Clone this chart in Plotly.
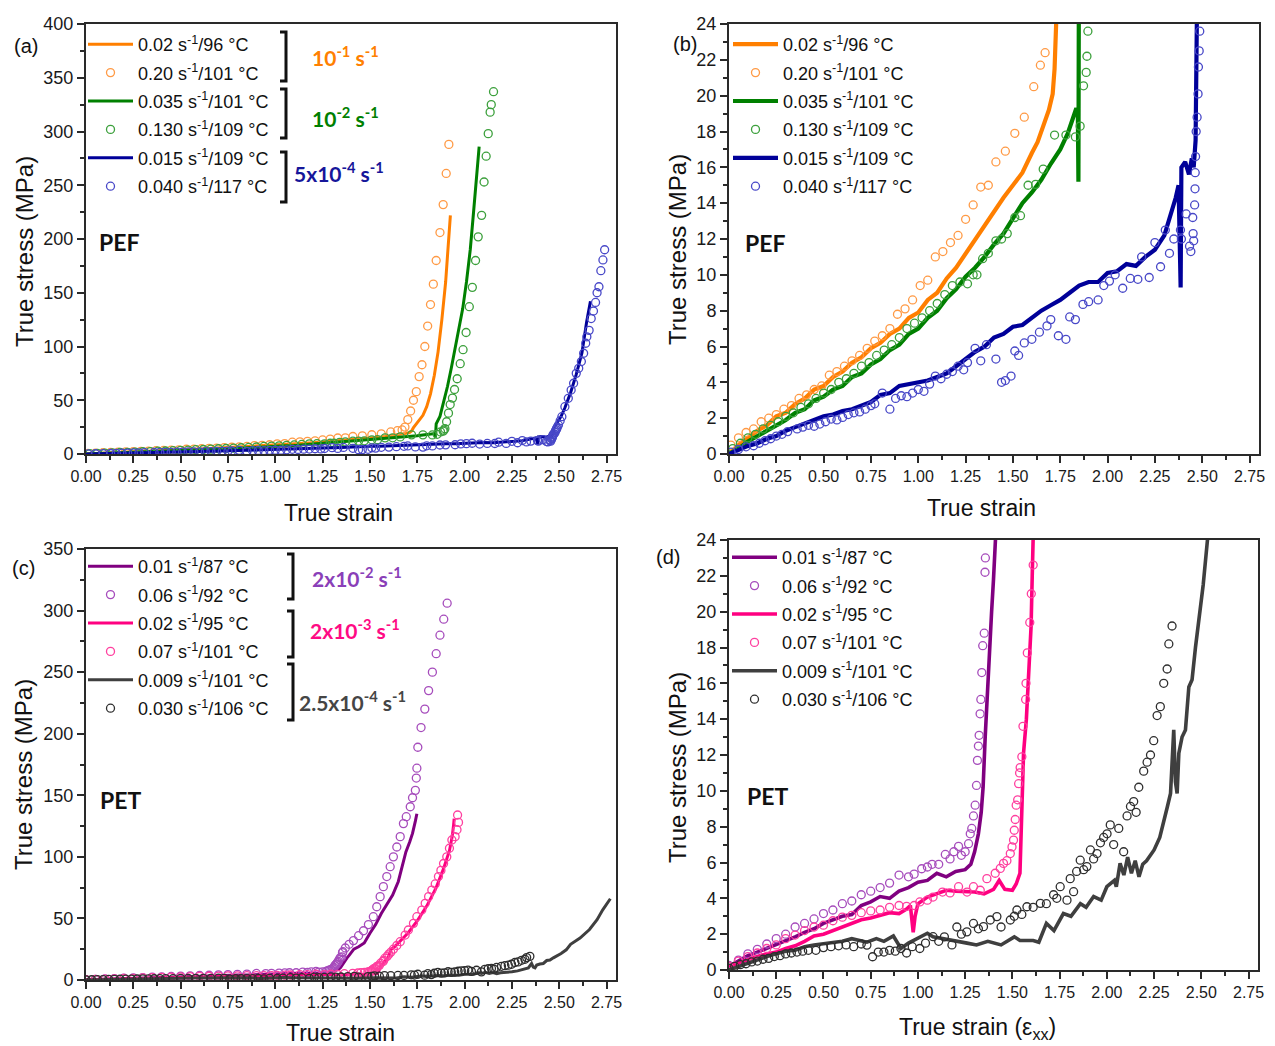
import plotly.graph_objects as go

FIG_W, FIG_H = 1275, 1046


def fx(p):
    return p / FIG_W


def fy(p):
    return 1 - p / FIG_H


# ---------------- PEF data (true strain, true stress in MPa) ----------------
pef_l1_x = [0.00, 0.05, 0.10, 0.15, 0.20, 0.25, 0.30, 0.35, 0.40, 0.45, 0.50, 0.55, 0.60, 0.65, 0.70, 0.75,
            0.80, 0.85, 0.90, 0.95, 1.00, 1.05, 1.10, 1.15, 1.20, 1.25, 1.30, 1.35, 1.40, 1.45, 1.50, 1.55,
            1.60, 1.63, 1.66, 1.69, 1.71, 1.72, 1.73, 1.74, 1.76, 1.78, 1.80, 1.82, 1.84, 1.86, 1.88, 1.90,
            1.91, 1.92, 1.925]
pef_l1_y = [0.0, 0.5, 0.9, 1.3, 1.6, 2.1, 2.3, 2.8, 3.1, 3.6, 3.8, 4.3, 4.6, 5.1, 5.4, 5.9,
            6.2, 6.7, 7.0, 7.6, 7.9, 8.6, 9.0, 9.8, 10.4, 11.2, 11.9, 12.8, 13.5, 14.3, 15.0, 15.7,
            16.8, 17.4, 18.3, 19.2, 20.1, 21.5, 24.5, 27, 31, 36, 44, 56, 73, 95, 125, 160,
            185, 210, 222]

pef_m1_x = [0.01, 0.05, 0.09, 0.13, 0.17, 0.21, 0.25, 0.29, 0.33, 0.37, 0.41, 0.45, 0.49, 0.53, 0.57, 0.61,
            0.65, 0.69, 0.73, 0.77, 0.81, 0.85, 0.89, 0.93, 0.97, 1.01, 1.05, 1.09, 1.13, 1.17, 1.21, 1.25,
            1.29, 1.33, 1.37, 1.41, 1.46, 1.51, 1.56, 1.61, 1.645, 1.67, 1.685, 1.70, 1.715, 1.73, 1.745,
            1.76, 1.775, 1.79, 1.805, 1.82, 1.835, 1.85, 1.87, 1.887, 1.903, 1.917]
pef_m1_y = [0.5, 0.9, 1.2, 1.4, 1.8, 2.0, 2.2, 2.5, 2.7, 3.1, 3.3, 3.6, 3.8, 4.4, 4.6, 4.9,
            5.2, 5.5, 5.9, 6.3, 6.6, 7.0, 7.8, 8.1, 8.6, 9.4, 9.7, 11.0, 11.3, 11.8, 12.2, 13.1,
            13.9, 14.9, 15.0, 16.3, 16.9, 17.9, 18.8, 20.5, 21.7, 22.4, 25, 32, 40, 50, 58,
            72, 83, 100, 119, 139, 158, 180, 206, 232, 261, 288]

pef_l2_x = [0.00, 0.05, 0.10, 0.15, 0.20, 0.25, 0.30, 0.35, 0.40, 0.45, 0.50, 0.55, 0.60, 0.65, 0.70, 0.75,
            0.80, 0.85, 0.90, 0.95, 1.00, 1.05, 1.10, 1.15, 1.20, 1.25, 1.30, 1.35, 1.40, 1.45, 1.50, 1.55,
            1.60, 1.65, 1.70, 1.75, 1.79, 1.82, 1.835, 1.843, 1.846, 1.848, 1.85, 1.87, 1.89, 1.91, 1.93,
            1.95, 1.97, 1.99, 2.01, 2.03, 2.045, 2.055, 2.065, 2.072, 2.077]
pef_l2_y = [0.0, 0.3, 0.7, 1.0, 1.3, 1.6, 1.9, 2.3, 2.5, 3.0, 3.2, 3.6, 3.8, 4.3, 4.5, 5.0,
            5.3, 5.8, 6.1, 6.7, 7.0, 7.6, 8.0, 8.7, 9.2, 9.9, 10.4, 11.0, 11.7, 12.3, 13.2, 14.0,
            14.6, 15.3, 16.2, 17.0, 17.9, 18.8, 19.3, 19.0, 15.2, 24.5, 28, 35, 48, 63, 80,
            98, 115, 135, 160, 190, 220, 240, 265, 275, 286]

pef_m2_x = [0.02, 0.06, 0.10, 0.14, 0.18, 0.22, 0.26, 0.30, 0.34, 0.38, 0.42, 0.46, 0.50, 0.54, 0.58, 0.62,
            0.66, 0.70, 0.74, 0.78, 0.82, 0.86, 0.90, 0.94, 0.98, 1.02, 1.06, 1.10, 1.14, 1.18, 1.22, 1.26,
            1.29, 1.31, 1.34, 1.37, 1.41, 1.44, 1.47, 1.51, 1.54, 1.58, 1.62, 1.66, 1.72, 1.78, 1.83,
            1.855, 1.873, 1.887, 1.891, 1.896,
            1.905, 1.915, 1.924, 1.936, 1.947, 1.961, 1.977, 1.992, 2.008, 2.025, 2.041, 2.058, 2.072,
            2.09, 2.103, 2.114, 2.125, 2.135, 2.141, 2.153]
pef_m2_y = [0.3, 0.6, 0.9, 1.1, 1.4, 1.6, 1.8, 2.1, 2.3, 2.6, 2.8, 3.1, 3.4, 3.6, 4.0, 4.2,
            4.5, 4.9, 5.1, 5.5, 5.8, 6.1, 6.5, 7.0, 7.3, 7.6, 8.0, 8.4, 8.9, 9.4, 9.6, 9.5,
            10.0, 10.0, 10.9, 11.2, 11.9, 12.0, 12.3, 13.2, 13.3, 15.0, 15.05, 15.9, 17.8, 17.8, 17.7,
            18.3, 20.55, 21.3, 22.2, 23.6,
            30, 38, 46, 52, 60, 70, 84, 97, 113, 137, 155, 180, 202,
            222, 253, 277, 298, 318, 325, 337]

pef_l3_x = [0.00, 0.05, 0.10, 0.15, 0.20, 0.25, 0.30, 0.35, 0.40, 0.45, 0.50, 0.55, 0.60, 0.65, 0.70, 0.75,
            0.80, 0.85, 0.90, 0.95, 1.00, 1.05, 1.10, 1.15, 1.20, 1.25, 1.30, 1.35, 1.40, 1.45, 1.50, 1.55,
            1.60, 1.65, 1.70, 1.75, 1.80, 1.85, 1.90, 1.95, 2.00, 2.05, 2.10, 2.15, 2.20, 2.25, 2.30,
            2.33, 2.36, 2.375, 2.383, 2.386, 2.39, 2.41, 2.43, 2.445, 2.455, 2.465, 2.472, 2.49, 2.51,
            2.53, 2.56, 2.59, 2.62, 2.645, 2.665]
pef_l3_y = [0.0, 0.25, 0.45, 0.6, 0.85, 1.0, 1.3, 1.5, 1.7, 1.85, 2.1, 2.2, 2.4, 2.5, 2.7, 2.9,
            3.3, 3.4, 3.8, 3.9, 4.0, 4.1, 4.3, 4.5, 4.9, 5.3, 5.7, 6.0, 6.5, 6.7, 7.1, 7.2,
            7.6, 8.0, 8.3, 8.6, 9.0, 9.4, 9.6, 9.6, 10.1, 10.2, 10.6, 10.5, 11.0, 11.4, 12.2,
            13.2, 14.3, 15.0, 12.0, 9.3, 16.0, 16.3, 15.6, 16.5, 16.0, 17.5, 24.5, 29, 35,
            43, 57, 74, 94, 123, 142]

pef_m3_x = [0.01, 0.05, 0.09, 0.13, 0.16, 0.19, 0.22, 0.25, 0.28, 0.31,
            0.36, 0.39, 0.42, 0.45, 0.48, 0.51, 0.54, 0.57, 0.60, 0.63,
            0.66, 0.69, 0.72, 0.75, 0.77, 0.81, 0.85, 0.88, 0.91, 0.94,
            0.97, 1.00, 1.03, 1.06, 1.09, 1.12, 1.15, 1.18, 1.21, 1.24,
            1.26, 1.30, 1.33, 1.36, 1.41, 1.44, 1.46, 1.49, 1.51, 1.53,
            1.56, 1.60, 1.64, 1.68, 1.70, 1.74, 1.78, 1.80, 1.83, 1.87,
            1.90, 1.95, 1.98, 2.01, 2.04, 2.08, 2.12, 2.16, 2.18, 2.22,
            2.25, 2.28, 2.305, 2.327, 2.35, 2.385, 2.39, 2.415, 2.433, 2.44,
            2.45, 2.452, 2.455, 2.46, 2.462, 2.463, 2.465, 2.468, 2.473, 2.478,
            2.48, 2.484, 2.487, 2.49, 2.496, 2.505, 2.514, 2.53, 2.548, 2.563,
            2.576, 2.59, 2.603, 2.617, 2.629, 2.64, 2.646, 2.658, 2.669, 2.681,
            2.692, 2.70, 2.71, 2.72, 2.731, 2.74]
pef_m3_y = [0.1, 0.25, 0.4, 0.46, 0.6, 0.74, 0.85, 1.0, 1.1, 1.25,
            1.4, 1.5, 1.6, 1.55, 1.67, 1.8, 1.95, 1.9, 2.04, 2.2,
            2.3, 2.35, 2.5, 2.7, 2.8, 3.4, 2.5, 3.1, 3.25, 3.2,
            3.4, 3.6, 3.5, 3.9, 4.35, 4.2, 4.45, 4.6, 4.9, 4.7,
            5.1, 5.9, 5.2, 6.1, 5.3, 4.0, 4.1, 4.35, 5.75, 5.5,
            6.2, 6.4, 6.8, 7.15, 7.5, 6.6, 6.4, 7.65, 7.5, 8.35,
            8.5, 8.6, 9.4, 9.65, 10.0, 9.25, 9.8, 9.75, 11.0, 9.85,
            11.8, 10.45, 12.5, 11.2, 12.0, 12.5, 12.0, 13.4, 11.6, 11.3,
            13.2, 12.3, 11.9, 13.9, 14.8, 15.7, 16.6, 18.0, 18.8, 20.1,
            21.6, 22.5, 23.6, 25, 27, 31, 34.7, 44, 51.8, 59.5,
            65.8, 75, 79.7, 86, 93.7, 103, 109, 115, 126, 133,
            141, 150, 155.6, 170.5, 180.5, 190]

# ---------------- PET data ----------------
pet_l1_x = [0.00, 0.05, 0.10, 0.15, 0.20, 0.25, 0.30, 0.35, 0.40, 0.45, 0.50, 0.55, 0.60, 0.65, 0.70, 0.75,
            0.80, 0.85, 0.90, 0.95, 1.00, 1.05, 1.10, 1.15, 1.20, 1.25, 1.28, 1.30, 1.32, 1.335, 1.345,
            1.356, 1.368, 1.379, 1.39, 1.40, 1.415, 1.44, 1.47, 1.50, 1.53, 1.56, 1.59, 1.62, 1.65, 1.67,
            1.69, 1.71, 1.725, 1.74, 1.748]
pet_l1_y = [0.2, 0.5, 0.8, 1.0, 1.2, 1.4, 1.6, 1.85, 2.1, 2.3, 2.6, 2.8, 3.0, 3.1, 3.6, 3.8,
            4.1, 4.0, 4.4, 4.6, 4.9, 5.0, 5.4, 5.2, 5.5, 5.6, 5.9, 6.6, 7.6, 8.8, 10.2,
            13.0, 15.8, 18.0, 20.0, 21.8, 25, 27, 30, 38, 45, 54, 61, 69, 80, 92,
            104, 112, 119, 129, 135]

pet_m1_x = [0.00, 0.05, 0.10, 0.15, 0.20, 0.25, 0.30, 0.35, 0.40, 0.45,
            0.50, 0.55, 0.60, 0.65, 0.70, 0.75, 0.80, 0.85, 0.90, 0.95,
            0.98, 1.02, 1.05, 1.075, 1.11, 1.145, 1.17, 1.19, 1.215, 1.23,
            1.25, 1.268, 1.277, 1.285, 1.294, 1.303, 1.31, 1.315, 1.32, 1.324,
            1.329, 1.333, 1.338, 1.343, 1.351, 1.355, 1.357, 1.37, 1.39, 1.413,
            1.44, 1.466, 1.492, 1.518, 1.536, 1.554, 1.571, 1.589, 1.607, 1.624,
            1.642, 1.66, 1.677, 1.692, 1.713, 1.725, 1.74, 1.745, 1.748, 1.753,
            1.77, 1.79, 1.81, 1.83, 1.85, 1.87, 1.89, 1.908]
pet_m1_y = [0.25, 0.55, 0.9, 1.15, 1.45, 1.75, 2.0, 2.4, 2.6, 2.85,
            3.15, 3.35, 3.7, 3.85, 4.2, 4.4, 4.6, 4.85, 5.3, 5.2,
            5.35, 5.65, 5.75, 5.9, 5.9, 6.45, 6.2, 6.6, 6.9, 6.4,
            6.6, 7.05, 7.6, 7.9, 8.6, 9.2, 10.3, 11.7, 12.5, 13.1,
            14.3, 15.1, 16.6, 18.1, 18.8, 22.2, 23.0, 26, 29, 32,
            36, 40, 45, 51.4, 59.5, 67.7, 75.8, 84, 92, 100,
            108, 116.4, 127, 132.6, 140.7, 148, 154, 164, 172, 189,
            205, 220, 235, 250, 265, 280, 293, 306]

pet_l2_x = [0.00, 0.05, 0.10, 0.15, 0.20, 0.25, 0.30, 0.35, 0.40, 0.45,
            0.50, 0.55, 0.60, 0.65, 0.70, 0.75, 0.80, 0.85, 0.90,
            0.94, 0.96, 0.975, 0.985, 1.00,
            1.05, 1.10, 1.15, 1.20, 1.25, 1.30, 1.35, 1.40,
            1.43, 1.46, 1.50, 1.52, 1.54, 1.55, 1.559, 1.574, 1.586, 1.599,
            1.605, 1.612, 1.63, 1.65, 1.70, 1.75, 1.80, 1.85, 1.89, 1.92,
            1.935, 1.942, 1.945]
pet_l2_y = [0.2, 0.4, 0.6, 0.75, 0.9, 1.0, 1.2, 1.35, 1.6, 1.9,
            2.0, 2.2, 2.4, 2.6, 2.8, 2.9, 3.05, 3.2, 3.15,
            3.4, 3.6, 2.1, 3.0, 3.7,
            4.07, 4.25, 4.45, 4.4, 4.4, 4.35, 4.25, 4.5,
            5.0, 4.5, 4.45, 4.8, 5.4, 8.4, 12.1, 14.0, 16.8, 19.2,
            22, 25, 27, 30, 38, 48, 60, 75, 91, 105,
            117, 126, 131]

pet_m2_x = [0.00, 0.05, 0.10, 0.15, 0.20, 0.25, 0.30, 0.35, 0.40, 0.45,
            0.50, 0.55, 0.60, 0.65, 0.70, 0.75, 0.80, 0.85, 0.90,
            0.94, 0.98, 1.01, 1.05, 1.08, 1.13, 1.17, 1.215, 1.26, 1.294,
            1.33, 1.365, 1.409, 1.436, 1.453, 1.471, 1.489, 1.498, 1.506, 1.51,
            1.515, 1.52, 1.528, 1.533, 1.538, 1.541, 1.55, 1.556, 1.57, 1.572,
            1.579, 1.592, 1.60, 1.61, 1.624, 1.642, 1.66, 1.686, 1.703, 1.73,
            1.748, 1.774, 1.792, 1.81, 1.827, 1.845, 1.862, 1.875, 1.889, 1.906,
            1.92, 1.933, 1.95, 1.96, 1.963, 1.968]
pet_m2_y = [0.2, 0.5, 0.75, 0.95, 1.2, 1.4, 1.75, 1.95, 2.2, 2.4,
            2.5, 2.75, 2.95, 3.05, 3.2, 3.3, 3.35, 3.5, 3.6,
            3.55, 3.6, 3.8, 3.9, 4.07, 4.35, 4.3, 4.65, 4.35, 4.65,
            4.45, 5.1, 5.4, 5.67, 5.95, 6.1, 6.5, 6.87, 7.25, 7.8,
            8.4, 9.2, 9.5, 10.4, 11.0, 11.3, 11.9, 13.6, 15.1, 16.0,
            17.7, 19.4, 21, 22.6, 25, 28, 31.1, 36.5, 40.6, 46,
            51.4, 56.8, 62.3, 67.7, 73, 78, 84, 89, 94.6, 100,
            107, 113.7, 116.4, 122, 134, 128]

pet_l3_x = [0.00, 0.05, 0.10, 0.15, 0.20, 0.25, 0.30, 0.35, 0.40, 0.45, 0.50, 0.55, 0.60, 0.65, 0.70,
            0.73, 0.78, 0.82, 0.87, 0.91, 0.95, 1.01, 1.05, 1.08, 1.17,
            1.26, 1.31, 1.37, 1.44, 1.51, 1.54, 1.61, 1.64, 1.68, 1.72,
            1.77, 1.81, 1.86, 1.89, 1.93, 1.97, 2.00, 2.04, 2.05, 2.07,
            2.09, 2.11, 2.13, 2.15, 2.17, 2.19, 2.21, 2.25, 2.28, 2.32,
            2.337, 2.354, 2.363, 2.372, 2.381, 2.398, 2.416, 2.434, 2.451, 2.469,
            2.487, 2.51, 2.537, 2.56, 2.61, 2.66, 2.70, 2.73, 2.77]
pet_l3_y = [0.0, 0.2, 0.4, 0.55, 0.75, 0.9, 1.05, 1.1, 1.3, 1.4, 1.45, 1.55, 1.6, 1.75, 1.6,
            1.55, 1.75, 1.6, 1.9, 1.2, 1.5, 1.85, 2.05, 1.85, 1.65,
            1.5, 1.4, 1.6, 1.4, 1.85, 1.65, 1.65, 1.55, 2.6, 2.2,
            3.15, 3.0, 3.7, 3.5, 4.1, 3.9, 4.65, 5.0, 4.65, 5.95,
            5.3, 6.3, 5.4, 6.1, 5.2, 5.9, 6.1, 6.7, 7.4, 9.1,
            9.85, 13.4, 10.5, 9.85, 12.1, 13.0, 13.4, 15.8, 16.2, 18.0,
            19.5, 21.5, 24.5, 29, 34, 41, 49, 57, 66]

pet_m3_x = [0.00, 0.03, 0.06, 0.09, 0.12, 0.15, 0.18, 0.21, 0.24, 0.27, 0.30, 0.33, 0.36, 0.39, 0.42,
            0.46, 0.50, 0.54, 0.58, 0.62, 0.66, 0.70, 0.73, 0.76, 0.79,
            0.82, 0.85, 0.88, 0.91, 0.94, 0.97, 1.01, 1.04, 1.08, 1.11,
            1.14, 1.18, 1.206, 1.23, 1.259, 1.294, 1.32, 1.347, 1.383, 1.418,
            1.44, 1.489, 1.51, 1.524, 1.55, 1.577, 1.61, 1.648, 1.68, 1.718,
            1.735, 1.753, 1.789, 1.806, 1.824, 1.84, 1.859, 1.877, 1.894, 1.913,
            1.93, 1.948, 1.966, 1.983, 2.001, 2.018, 2.036, 2.063, 2.089, 2.107,
            2.125, 2.142, 2.155, 2.169, 2.195, 2.213, 2.231, 2.248, 2.266, 2.283,
            2.301, 2.319, 2.328, 2.345]
pet_m3_y = [0.1, 0.2, 0.3, 0.35, 0.45, 0.5, 0.6, 0.65, 0.75, 0.8, 0.9, 0.95, 1.0, 1.05, 1.1,
            1.1, 1.25, 1.3, 1.35, 1.4, 1.3, 1.45, 1.39, 0.74, 1.0,
            1.0, 1.1, 1.05, 1.2, 0.95, 1.3, 1.2, 1.5, 1.86, 1.6,
            1.85, 1.4, 2.4, 2.0, 2.13, 2.6, 2.3, 2.42, 2.79, 2.98,
            2.4, 2.79, 3.0, 3.35, 3.1, 3.53, 3.5, 3.72, 3.7, 4.2,
            4.0, 4.65, 3.9, 5.1, 4.37, 5.5, 6.13, 5.6, 5.77, 6.7,
            6.2, 6.5, 7.1, 7.4, 7.6, 8.1, 7.0, 7.9, 6.6, 8.6,
            9.13, 9.4, 8.8, 10.2, 11.1, 11.6, 12.0, 12.8, 14.2, 14.7,
            16.0, 16.8, 18.2, 19.2]

# Series definitions: (legend label, x, y, kind, colour)
pef_series = [
    ("0.02 s<sup>-1</sup>/96 °C", pef_l1_x, pef_l1_y, "line", "#FF7F00"),
    ("0.20 s<sup>-1</sup>/101 °C", pef_m1_x, pef_m1_y, "circle", "#FF9A45"),
    ("0.035 s<sup>-1</sup>/101 °C", pef_l2_x, pef_l2_y, "line", "#008000"),
    ("0.130 s<sup>-1</sup>/109 °C", pef_m2_x, pef_m2_y, "circle", "#3CA03C"),
    ("0.015 s<sup>-1</sup>/109 °C", pef_l3_x, pef_l3_y, "line", "#000099"),
    ("0.040 s<sup>-1</sup>/117 °C", pef_m3_x, pef_m3_y, "circle", "#4848C8"),
]
pet_series = [
    ("0.01 s<sup>-1</sup>/87 °C", pet_l1_x, pet_l1_y, "line", "#800080"),
    ("0.06 s<sup>-1</sup>/92 °C", pet_m1_x, pet_m1_y, "circle", "#A64CBC"),
    ("0.02 s<sup>-1</sup>/95 °C", pet_l2_x, pet_l2_y, "line", "#FF0080"),
    ("0.07 s<sup>-1</sup>/101 °C", pet_m2_x, pet_m2_y, "circle", "#FF3F9F"),
    ("0.009 s<sup>-1</sup>/101 °C", pet_l3_x, pet_l3_y, "line", "#3F3F3F"),
    ("0.030 s<sup>-1</sup>/106 °C", pet_m3_x, pet_m3_y, "circle", "#2E2E2E"),
]

# Panel layout: pixel boxes of the plotting areas and legend anchors
panels = [
    dict(key="a", n="", series=pef_series, box=(86, 616, 24, 454), ymax=400, ydt=50,
         legend="legend", leg=(83, 26), lw=3),
    dict(key="b", n="2", series=pef_series, box=(729, 1259, 24, 454), ymax=24, ydt=2,
         legend="legend2", leg=(728, 26), lw=4.2),
    dict(key="c", n="3", series=pet_series, box=(86, 616, 549, 980), ymax=350, ydt=50,
         legend="legend3", leg=(83, 548), lw=3),
    dict(key="d", n="4", series=pet_series, box=(729, 1258, 540, 970), ymax=24, ydt=2,
         legend="legend4", leg=(727, 539), lw=3.6),
]

AXIS_COLOR = "#2a2a2a"
TEXT_FONT = "Liberation Sans, Arial, sans-serif"
BOLD_FONT = "Lato, Liberation Sans, sans-serif"

fig = go.Figure()
layout = dict(
    template="none",
    width=FIG_W, height=FIG_H, margin=dict(l=0, r=0, t=0, b=0, pad=0, autoexpand=False),
    paper_bgcolor="white", plot_bgcolor="white", showlegend=True,
    font=dict(family=TEXT_FONT, size=16, color="#111111"),
)

for p in panels:
    xr, yr = "x" + p["n"], "y" + p["n"]
    for i, (label, xs, ys, kind, color) in enumerate(p["series"]):
        common = dict(x=xs, y=ys, name=label, xaxis=xr, yaxis=yr, legend=p["legend"],
                      legendgroup=p["key"] + str(i))
        if kind == "line":
            fig.add_trace(go.Scatter(mode="lines", line=dict(color=color, width=p["lw"]), **common))
        else:
            fig.add_trace(go.Scatter(mode="markers",
                                     marker=dict(symbol="circle-open", size=8, color=color,
                                                 line=dict(width=1.3, color=color)),
                                     **common))
    x0, x1, y0, y1 = p["box"]
    layout["xaxis" + p["n"]] = dict(
        domain=[fx(x0), fx(x1)], anchor=yr, range=[0, 2.8], dtick=0.25, tick0=0, tickformat=".2f",
        automargin=False,
        showline=True, linecolor=AXIS_COLOR, linewidth=2, mirror=True, ticks="outside", ticklen=7,
        tickwidth=1.5, tickcolor=AXIS_COLOR, showgrid=False, zeroline=False,
        minor=dict(dtick=0.125, tick0=0, ticks="outside", ticklen=4, tickwidth=1.5, tickcolor=AXIS_COLOR),
        tickfont=dict(family=TEXT_FONT, size=16, color="#1a1a1a"),
    )
    layout["yaxis" + p["n"]] = dict(
        domain=[fy(y1), fy(y0)], anchor=xr, range=[0, p["ymax"]], dtick=p["ydt"], tick0=0,
        automargin=False,
        showline=True, linecolor=AXIS_COLOR, linewidth=2, mirror=True, ticks="outside", ticklen=7,
        tickwidth=1.5, tickcolor=AXIS_COLOR, showgrid=False, zeroline=False,
        minor=dict(dtick=p["ydt"] / 2, tick0=0, ticks="outside", ticklen=4, tickwidth=1.5,
                   tickcolor=AXIS_COLOR),
        tickfont=dict(family=TEXT_FONT, size=18, color="#1a1a1a"),
    )
    lx, ly = p["leg"]
    layout[p["legend"]] = dict(
        x=fx(lx), y=fy(ly), xanchor="left", yanchor="top", bgcolor="rgba(0,0,0,0)",
        borderwidth=0, font=dict(family=TEXT_FONT, size=18, color="#111111"),
        traceorder="grouped", tracegroupgap=2, itemwidth=45,
    )

fig.update_layout(**layout)

annotations = []


def text_at(txt, x, y, size, color="#111111", bold=False, family=TEXT_FONT, angle=0, xanchor="center"):
    annotations.append(dict(
        text="<b>%s</b>" % txt if bold else txt, x=fx(x), y=fy(y), xref="paper", yref="paper",
        showarrow=False, xanchor=xanchor, yanchor="middle", textangle=angle,
        font=dict(family=family, size=size, color=color),
    ))


# Axis titles
text_at("True strain", 338, 513, 23)
text_at("True strain", 981, 508, 23)
text_at("True strain", 340, 1033, 23)
text_at("True strain (ε<sub>xx</sub>)", 977, 1028, 23)
text_at("True stress (MPa)", 25, 252, 24, angle=-90)
text_at("True stress (MPa)", 677, 250, 24, angle=-90)
text_at("True stress (MPa)", 23, 775, 24, angle=-90)
text_at("True stress (MPa)", 677, 768, 24, angle=-90)

# Panel letters
text_at("(a)", 26, 46, 20)
text_at("(b)", 685, 44, 20)
text_at("(c)", 24, 568, 20)
text_at("(d)", 668, 557, 20)

# Material tags
text_at("PEF", 119, 242, 23, bold=True, family=BOLD_FONT)
text_at("PEF", 765, 243, 23, bold=True, family=BOLD_FONT)
text_at("PET", 120, 800, 23, bold=True, family=BOLD_FONT)
text_at("PET", 767, 796, 23, bold=True, family=BOLD_FONT)

# Equivalent strain-rate group labels
text_at("10<sup>-1</sup> s<sup>-1</sup>", 310, 56, 21, "#FF8000", True, BOLD_FONT, xanchor="left")
text_at("10<sup>-2</sup> s<sup>-1</sup>", 310, 117, 21, "#008000", True, BOLD_FONT, xanchor="left")
text_at("5x10<sup>-4</sup> s<sup>-1</sup>", 292, 172, 21, "#16169A", True, BOLD_FONT, xanchor="left")
text_at("2x10<sup>-2</sup> s<sup>-1</sup>", 310, 577, 21, "#8A3FB8", True, BOLD_FONT, xanchor="left")
text_at("2x10<sup>-3</sup> s<sup>-1</sup>", 308, 629, 21, "#FF0A84", True, BOLD_FONT, xanchor="left")
text_at("2.5x10<sup>-4</sup> s<sup>-1</sup>", 297, 701, 21, "#454545", True, BOLD_FONT, xanchor="left")

fig.update_layout(annotations=annotations)

# Square brackets grouping the legend entries
brackets = [(286, 32, 81), (286, 89, 138), (286, 152, 202),
            (293, 554, 599), (293, 611, 657), (293, 664, 720)]
shapes = []
for bx, top, bot in brackets:
    path = "M %f,%f L %f,%f L %f,%f L %f,%f" % (
        fx(bx - 6), fy(top), fx(bx), fy(top), fx(bx), fy(bot), fx(bx - 6), fy(bot))
    shapes.append(dict(type="path", path=path, xref="paper", yref="paper",
                       line=dict(color="#111111", width=3)))
fig.update_layout(shapes=shapes)

fig.write_html("out.html")
